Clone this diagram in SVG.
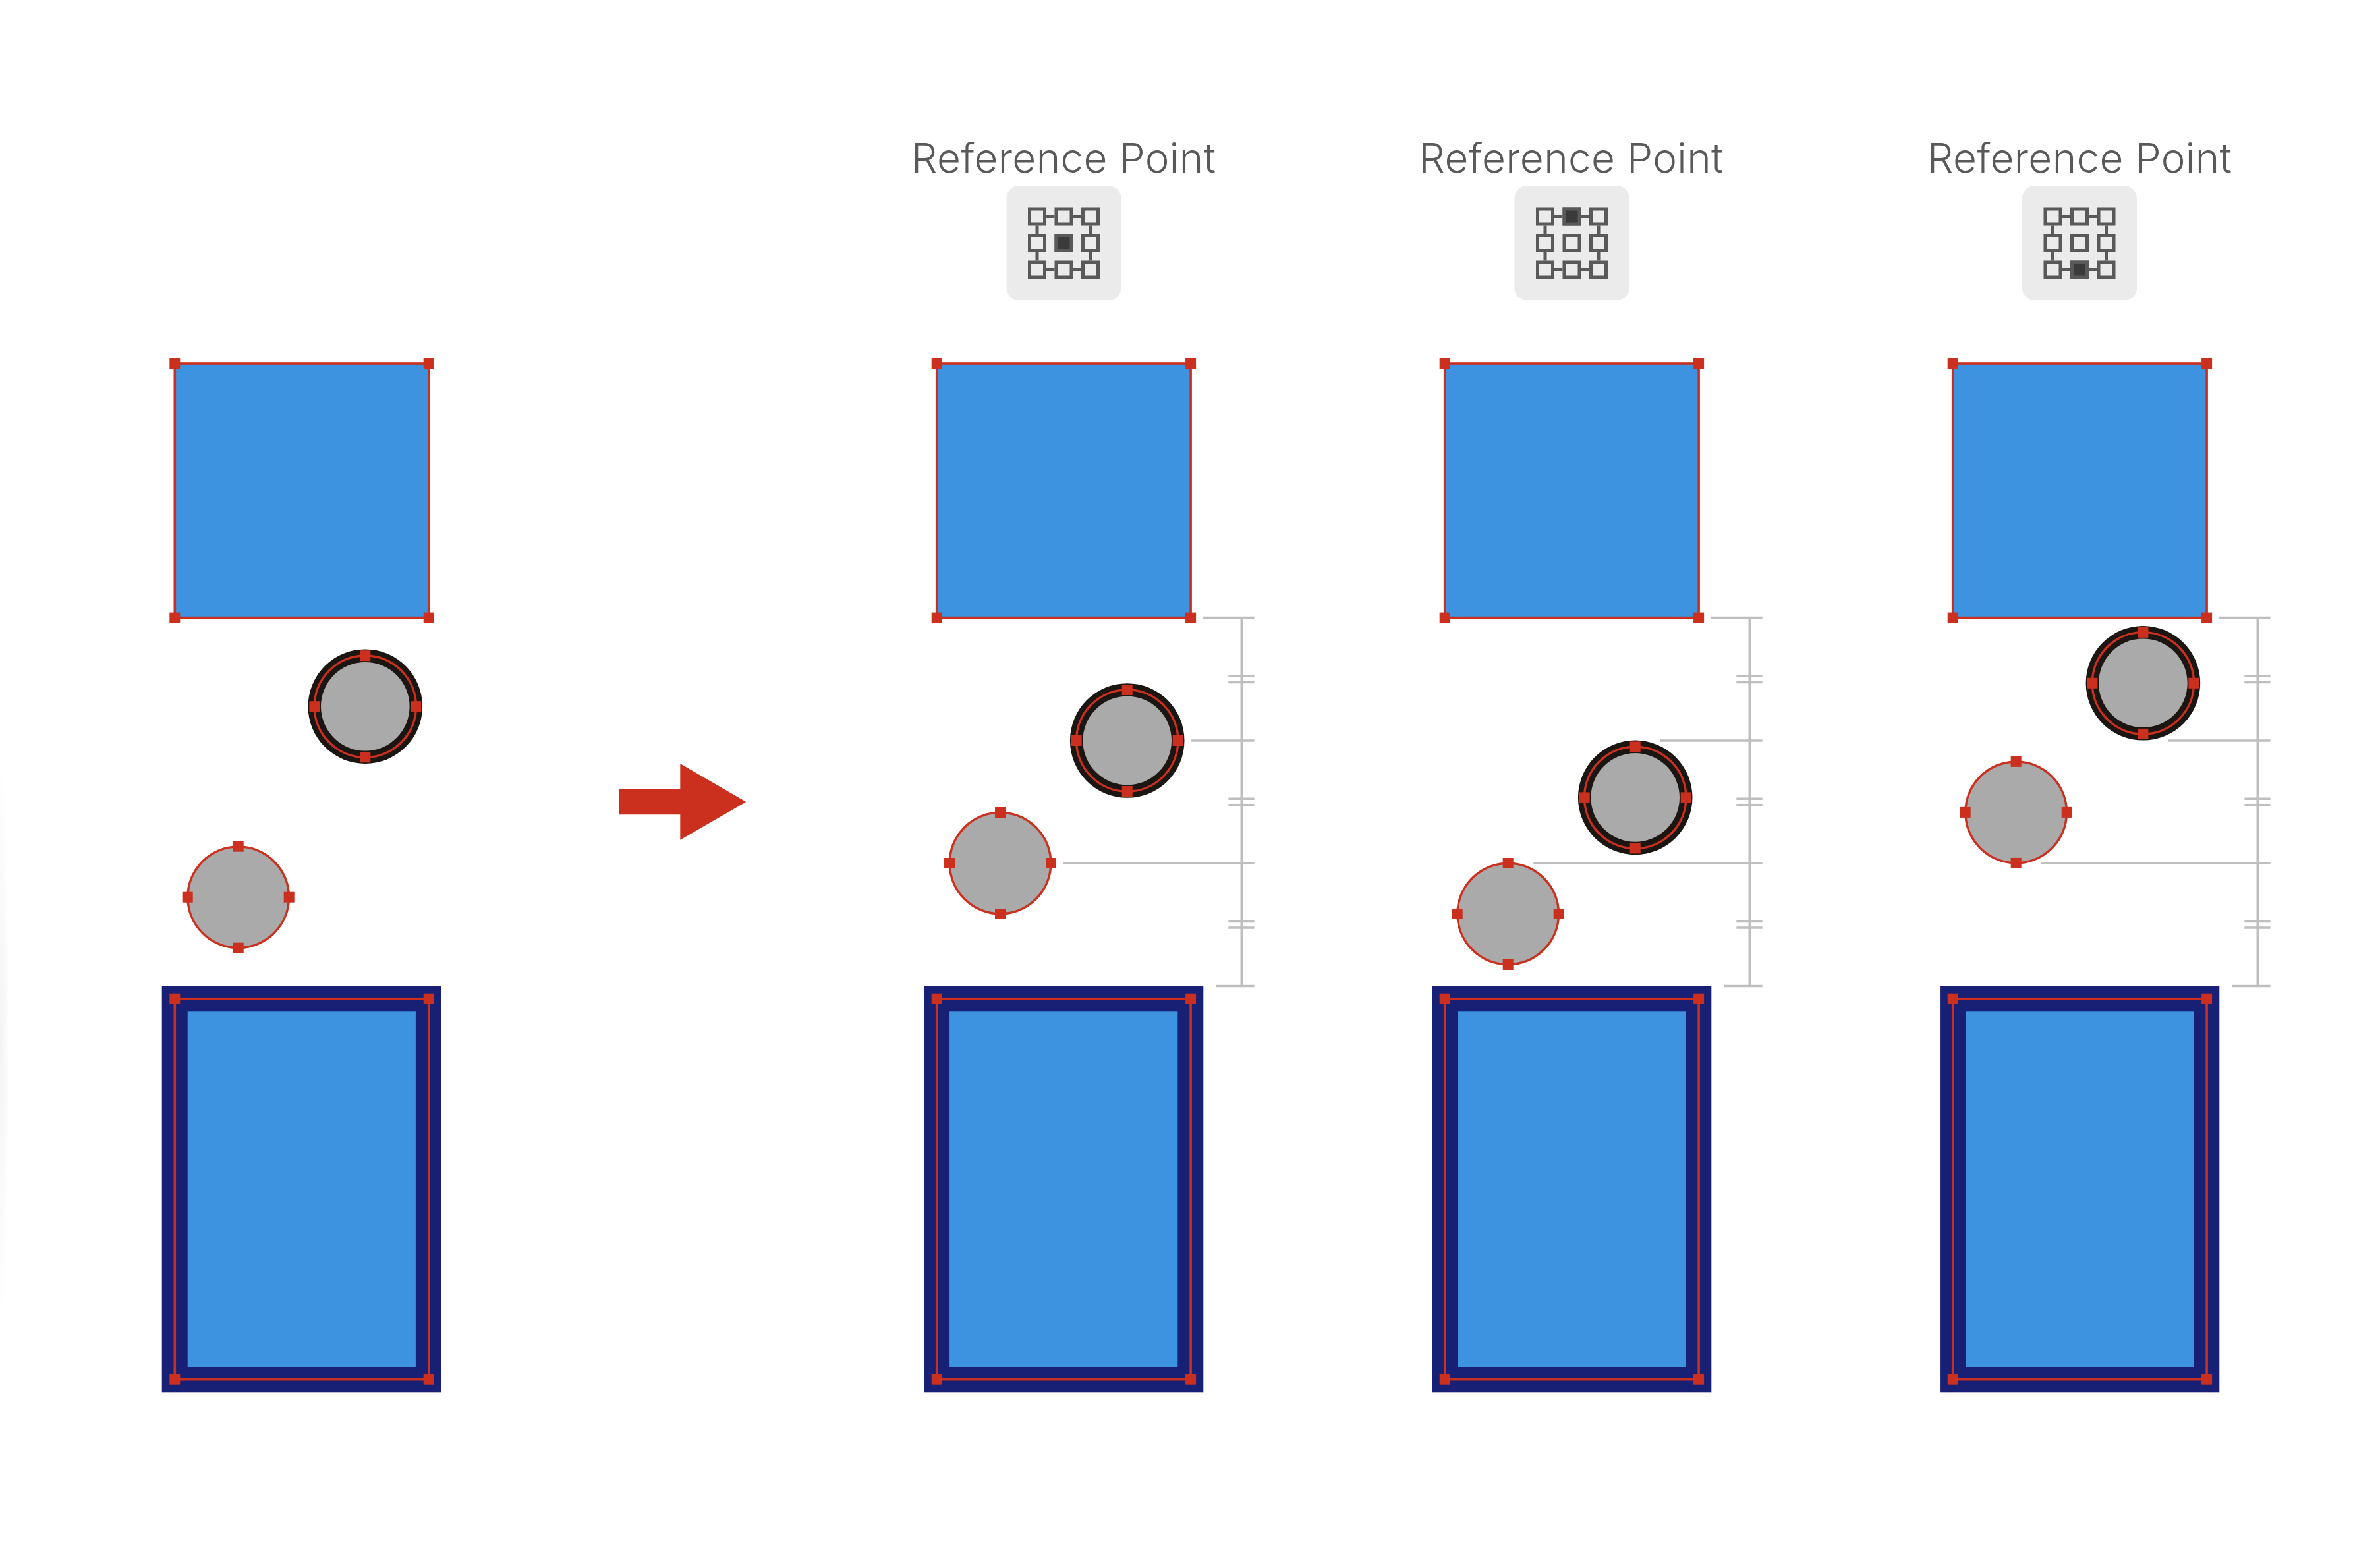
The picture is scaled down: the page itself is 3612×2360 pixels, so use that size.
<svg xmlns="http://www.w3.org/2000/svg" width="3612" height="2360" viewBox="0 0 3612 2360">
<style>
.h{fill:#cb2f1e}
.blue{fill:#3d93e0}
.sel{fill:none;stroke:#cb2f1e;stroke-width:3.6}
.gray{fill:#aaaaaa}
.dim{stroke:#bfbfbf;stroke-width:3.6;fill:none}
.label{font-family:Inter,"Noto Sans","Liberation Sans",sans-serif;font-weight:300;font-size:62px;fill:#595959;text-anchor:middle}
.ic{fill:none;stroke:#595959;stroke-width:5}
.ico{fill:#ebebeb}
</style>
<defs>
<radialGradient id="edge" cx="0.5" cy="0.5" r="0.5"><stop offset="0" stop-color="#f3f3f3"/><stop offset="0.5" stop-color="#f8f8f8"/><stop offset="1" stop-color="#ffffff"/></radialGradient>
<rect id="hd" class="h" x="-8" y="-8" width="16" height="16"/>
<g id="square">
<rect class="blue" x="265.3" y="552" width="385.4" height="385.6"/>
<rect class="sel" x="265.3" y="552" width="385.4" height="385.6"/>
<use href="#hd" x="265.3" y="552"/><use href="#hd" x="650.7" y="552"/><use href="#hd" x="265.3" y="937.6"/><use href="#hd" x="650.7" y="937.6"/>
</g>
<g id="frame">
<rect fill="#172075" x="245.7" y="1496.3" width="424.2" height="617"/>
<rect class="blue" x="284.7" y="1535.3" width="346.2" height="539"/>
<rect class="sel" x="265.3" y="1515.7" width="385.4" height="578"/>
<use href="#hd" x="265.3" y="1515.7"/><use href="#hd" x="650.7" y="1515.7"/><use href="#hd" x="265.3" y="2093.7"/><use href="#hd" x="650.7" y="2093.7"/>
</g>
<g id="ringed">
<circle r="86.8" fill="#1c1613"/>
<circle r="67.3" class="gray"/>
<circle r="77.2" fill="none" stroke="#cb2f1e" stroke-width="3.4"/>
<use href="#hd" y="-77"/><use href="#hd" y="77"/><use href="#hd" x="-77"/><use href="#hd" x="77"/>
</g>
<g id="plain">
<circle r="76.8" class="gray" stroke="#cb2f1e" stroke-width="3.5"/>
<use href="#hd" y="-77"/><use href="#hd" y="77"/><use href="#hd" x="-77"/><use href="#hd" x="77"/>
</g>
<g id="iconbase">
<rect class="ico" x="-87" y="-87" width="174" height="174" rx="19"/>
<path class="ic" d="M-26.5 -40.5H-14M14 -40.5H26.5M-26.5 40.5H-14M14 40.5H26.5M-40.5 -26.5V-14M40.5 -26.5V-14M-40.5 14V26.5M40.5 14V26.5"/>
<rect class="ic" x="-52" y="-52" width="23" height="23"/>
<rect class="ic" x="-11.5" y="-52" width="23" height="23"/>
<rect class="ic" x="29" y="-52" width="23" height="23"/>
<rect class="ic" x="-52" y="-11.5" width="23" height="23"/>
<rect class="ic" x="-11.5" y="-11.5" width="23" height="23"/>
<rect class="ic" x="29" y="-11.5" width="23" height="23"/>
<rect class="ic" x="-52" y="29" width="23" height="23"/>
<rect class="ic" x="-11.5" y="29" width="23" height="23"/>
<rect class="ic" x="29" y="29" width="23" height="23"/>
</g>
<path id="dimbase" class="dim" d="M1826 937.6H1903.6M1845.4 1496.5H1903.6M1864.3 1026H1903.6M1864.3 1035.4H1903.6M1864.3 1212.2H1903.6M1864.3 1221.7H1903.6M1864.3 1398.5H1903.6M1864.3 1408H1903.6M1884.3 937.6V1496.5"/>
</defs>
<rect width="3612" height="2360" fill="#ffffff"/>
<ellipse cx="0" cy="1580" rx="14" ry="430" fill="url(#edge)"/>

<g id="connectors">
<use href="#dimbase"/>
<path class="dim" d="M1807 1124H1903.6M1614 1310.2H1903.6"/>
<use href="#dimbase" x="771"/>
<path class="dim" d="M2520 1124H2674.6M2327.3 1310.2H2674.6"/>
<use href="#dimbase" x="1542"/>
<path class="dim" d="M3290.7 1124H3445.6M3098 1310.2H3445.6"/>
</g>

<g id="square-1"><use href="#square"/></g>
<g id="frame-1"><use href="#frame"/></g>
<g id="ringed-1"><use href="#ringed" x="554.3" y="1072.2"/></g>
<g id="plain-1"><use href="#plain" x="361.7" y="1361.7"/></g>

<g id="arrow"><path class="h" d="M939.7 1197.7H1032.3V1159L1132.3 1217L1032.3 1274.7V1236.3H939.7Z"/></g>

<g id="label-2"><text class="label" x="1614" y="261.7" textLength="462" lengthAdjust="spacing">Reference Point</text></g>
<g id="icon-2" transform="translate(1614.5 369)"><use href="#iconbase"/><rect fill="#3a3a3a" x="-11.5" y="-11.5" width="23" height="23" stroke="#595959" stroke-width="5"/></g>
<g id="square-2" transform="translate(1156.4)"><use href="#square"/></g>
<g id="frame-2" transform="translate(1156.4)"><use href="#frame"/></g>
<g id="ringed-2"><use href="#ringed" x="1710.7" y="1124"/></g>
<g id="plain-2"><use href="#plain" x="1518" y="1310"/></g>

<g id="label-3"><text class="label" x="2384.5" y="261.7" textLength="462" lengthAdjust="spacing">Reference Point</text></g>
<g id="icon-3" transform="translate(2385.5 369)"><use href="#iconbase"/><rect fill="#3a3a3a" x="-11.5" y="-52" width="23" height="23" stroke="#595959" stroke-width="5"/></g>
<g id="square-3" transform="translate(1927.4)"><use href="#square"/></g>
<g id="frame-3" transform="translate(1927.4)"><use href="#frame"/></g>
<g id="ringed-3"><use href="#ringed" x="2481.7" y="1210.4"/></g>
<g id="plain-3"><use href="#plain" x="2288.7" y="1387"/></g>

<g id="label-4"><text class="label" x="3156" y="261.7" textLength="462" lengthAdjust="spacing">Reference Point</text></g>
<g id="icon-4" transform="translate(3156 369)"><use href="#iconbase"/><rect fill="#3a3a3a" x="-11.5" y="29" width="23" height="23" stroke="#595959" stroke-width="5"/></g>
<g id="square-4" transform="translate(2698.4)"><use href="#square"/></g>
<g id="frame-4" transform="translate(2698.4)"><use href="#frame"/></g>
<g id="ringed-4"><use href="#ringed" x="3252.4" y="1036.8"/></g>
<g id="plain-4"><use href="#plain" x="3059.7" y="1232.9"/></g>
</svg>
